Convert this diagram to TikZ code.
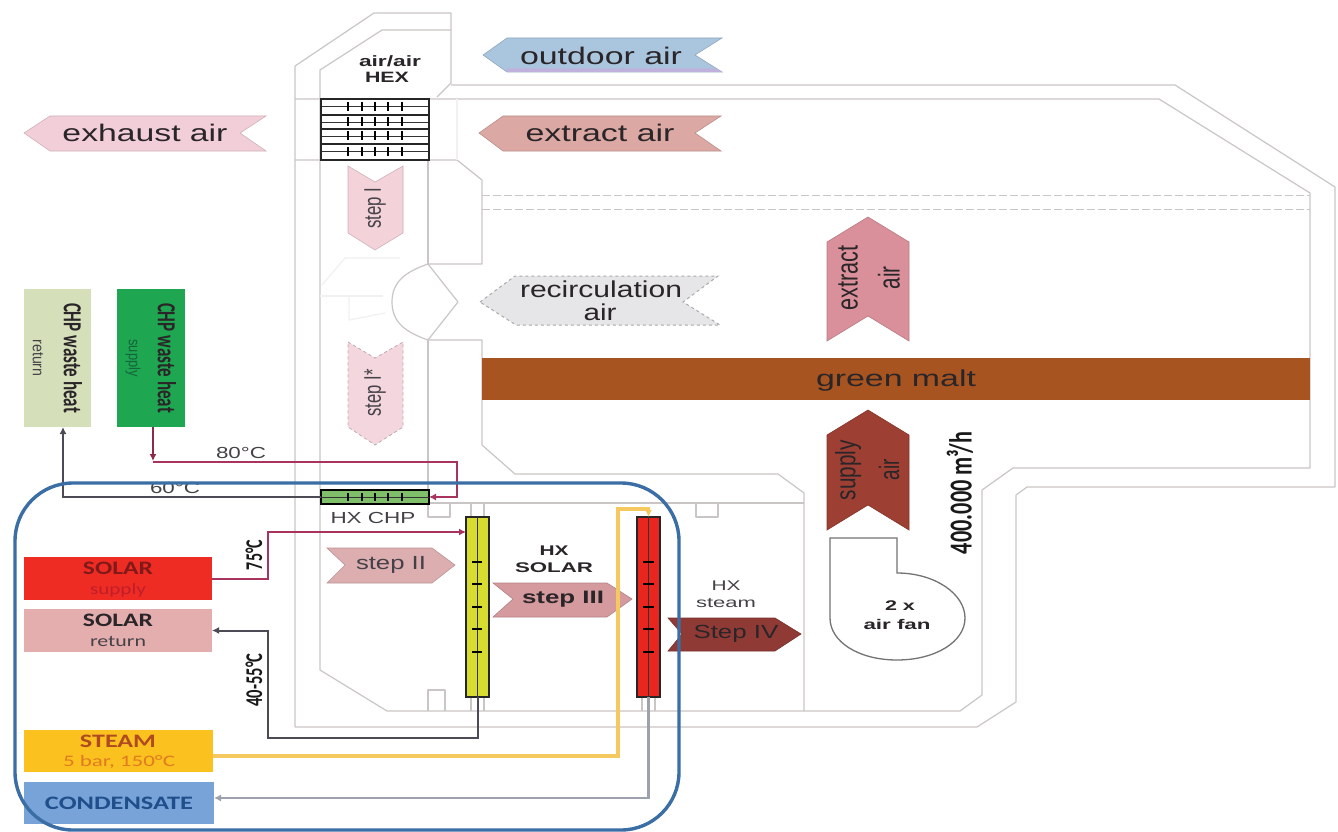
\documentclass[tikz,border=0pt]{standalone}
\usepackage{fontspec}
\usepackage{graphicx}
\usetikzlibrary{arrows.meta}
\setmainfont{Liberation Sans}
\newfontfamily\cb{Carlito}
\newcommand{\fsz}[1]{\fontsize{#1}{#1}\selectfont}
% \lab[opts]{name}{x}{y}{width}{size}{text}
\newcommand{\lab}[7][]{\node[inner sep=0pt,#1] (#2) at (#3,#4) {\fsz{#6}\resizebox{#5pt}{\height}{#7}};}
\definecolor{wall}{HTML}{CBC6C6}
\definecolor{wallfaint}{HTML}{F2F0F0}
\definecolor{txt}{HTML}{2A2528}
\definecolor{grey}{HTML}{444147}
\definecolor{hotpipe}{HTML}{A8335E}
\definecolor{hotdark}{HTML}{8C2A4A}
\definecolor{retpipe}{HTML}{4C4B55}
\definecolor{steampipe}{HTML}{F5C860}
\definecolor{condpipe}{HTML}{9DA1AC}
\definecolor{frameblue}{HTML}{3A6EA5}
\definecolor{maltc}{HTML}{A85420}
\definecolor{outdoorc}{HTML}{AAC5DE}
\definecolor{lilac}{HTML}{BEB2DC}
\definecolor{extractc}{HTML}{DBA8A3}
\definecolor{exhaustc}{HTML}{F2CFD8}
\definecolor{recircc}{HTML}{E6E6E9}
\definecolor{recircd}{HTML}{AAAAAC}
\definecolor{stepa}{HTML}{F3D2DA}
\definecolor{stepb}{HTML}{F3D6DE}
\definecolor{stepbd}{HTML}{BEAAAF}
\definecolor{stepc}{HTML}{DCAEB0}
\definecolor{stepd}{HTML}{D49A9E}
\definecolor{stepe}{HTML}{8F3A35}
\definecolor{upc}{HTML}{D9909A}
\definecolor{supc}{HTML}{9D3F33}
\definecolor{hxchpc}{HTML}{7FBF6A}
\definecolor{hxsolc}{HTML}{D8DC30}
\definecolor{hxstec}{HTML}{E8251F}
\definecolor{chprc}{HTML}{D5DFBA}
\definecolor{chpsc}{HTML}{1FA650}
\definecolor{chpst}{HTML}{14643C}
\definecolor{solsc}{HTML}{EE2C24}
\definecolor{solst}{HTML}{821919}
\definecolor{solsu}{HTML}{BE1E28}
\definecolor{solrc}{HTML}{E4AEAE}
\definecolor{stmc}{HTML}{FBC11F}
\definecolor{stmt}{HTML}{B04A20}
\definecolor{stmu}{HTML}{E07B20}
\definecolor{condc}{HTML}{77A3D8}
\definecolor{condt}{HTML}{1F4E8A}
\tikzset{
  wallline/.style={draw=wall,line width=1.2pt,line join=round},
  faintline/.style={draw=wallfaint,line width=1.2pt},
  dashwall/.style={draw=wall,line width=0.9pt,dash pattern=on 8pt off 3pt},
  ribbon/.style={draw=#1!85!black,fill=#1,line width=0.6pt,line join=miter},
  boxnode/.style={inner sep=0pt,outer sep=0pt,draw=none,anchor=north west},
  pipe/.style={line width=2pt,line join=miter},
  tip/.style={-{Latex[length=7pt,width=7pt]}},
  hxline/.style={draw=black!85,line width=1.5pt},
  thinhx/.style={draw=black!80,line width=0.9pt},
  tick/.style={draw=black,line width=1.4pt},
}
\begin{document}
\begin{tikzpicture}[x=1pt,y=-1pt]
\useasboundingbox (0,0) rectangle (1338,832);
\fill[white] (0,0) rectangle (1338,832);

% ---- building walls
\draw[wallline] (295,727) -- (295,66) -- (374,13) -- (451,13) -- (451,83) -- (437,97);
\draw[wallline] (320,670) -- (320,70) -- (382,30) -- (451,30);
\draw[wallline] (451,85) -- (1175,85) -- (1335,187) -- (1335,487) -- (1027,487) -- (1016,495) -- (1016,702) -- (977,727) -- (295,727);
\draw[wallline] (295,99) -- (1159,99) -- (1310,193) -- (1310,468) -- (1013,468) -- (982,490) -- (982,695) -- (960,711) -- (387,711) -- (320,670);
\draw[wallline] (295,160) -- (457,160) -- (482,180) -- (482,264) -- (428,264);
\draw[wallline] (428,160) -- (428,264);
\draw[faintline] (457,99) -- (457,160);
\draw[dashwall] (482,195) -- (1310,195);
\draw[dashwall] (482,209) -- (1310,209);
% damper
\draw[wallline] (428,264) -- (458,302) -- (428,340) .. controls (405,332) and (392,322) .. (392,302) .. controls (392,282) and (405,272) .. (428,264);
\draw[wallline] (428,340) -- (482,340) -- (482,445) -- (515,474) -- (778,474) -- (804,493) -- (804,711);
\draw[wallline] (428,340) -- (428,503) -- (804,503);
\draw[faintline] (320,296) -- (383,296);
\draw[faintline] (349,296) -- (349,320) -- (385,313);
\draw[faintline] (322,285) -- (345,258) -- (400,258);
% small stubs
\draw[wallline] (428,503) -- (428,517) -- (450,517) -- (450,503);
\draw[wallline] (696,503) -- (696,517) -- (718,517) -- (718,503);
\draw[wallline] (428,711) -- (428,690) -- (445,690) -- (445,711);
\draw[wallline] (471,503) -- (471,517) (484,503) -- (484,517);
\draw[wallline] (471,697) -- (471,711) (484,697) -- (484,711);
\draw[wallline] (642,697) -- (642,711) (655,697) -- (655,711);

% ---- green malt
\node[boxnode,fill=maltc,minimum width=828pt,minimum height=42pt] (malt) at (482,358) {};
\lab[text=txt]{maltlabel}{896}{381}{160}{23}{green malt}

% ---- ribbons
\path[ribbon=outdoorc] (483,55) -- (507,38) -- (722,38) -- (695,55) -- (722,72) -- (507,72) -- cycle;
\fill[lilac] (507,68.5) -- (716,68.5) -- (722,72) -- (507,72) -- cycle;
\lab[text=txt]{outdoorlabel}{601}{56}{162}{24}{outdoor air}
\path[ribbon=extractc] (479,133) -- (503,116) -- (721,116) -- (695,133) -- (721,151) -- (503,151) -- cycle;
\lab[text=txt]{extractlabel}{600}{133}{149}{24}{extract air}
\path[ribbon=exhaustc] (24,133) -- (50,116) -- (266,116) -- (240,133) -- (266,151) -- (50,151) -- cycle;
\lab[text=txt]{exhaustlabel}{145}{133}{165}{24}{exhaust air}
\path[draw=recircd,dashed,line width=1pt,fill=recircc] (480,302) -- (515,276) -- (718,276) -- (683,302) -- (720,325) -- (516,325) -- cycle;
\lab[text=txt]{recirclabel}{601}{289}{162}{23}{recirculation}
\lab[text=txt]{recirclabelb}{600}{312}{33}{23}{air}

% step I / I*
\path[ribbon=stepa] (348,166) -- (375,182) -- (403,166) -- (403,233) -- (375,250) -- (348,233) -- cycle;
\lab[rotate=90,text=grey]{stepone}{375}{208}{41}{24}{step I}
\path[draw=stepbd,dashed,line width=0.8pt,fill=stepb] (348,342) -- (375,358) -- (403,342) -- (403,427) -- (375,445) -- (348,427) -- cycle;
\lab[rotate=90,text=grey]{steponestar}{375}{393}{47}{24}{step I*}

% step II-IV
\path[ribbon=stepc] (327,548) -- (432,548) -- (455,565) -- (432,583) -- (327,583) -- (345,565) -- cycle;
\lab[text=grey]{steptwo}{391}{565}{70}{19}{step II}
\path[ribbon=stepd] (493,583) -- (607,583) -- (632,599) -- (607,617) -- (493,617) -- (513,599) -- cycle;
\lab[text=txt,font=\bfseries]{stepthree}{563}{599}{82}{18}{step III}
\path[ribbon=stepe] (668,618) -- (775,618) -- (801,634) -- (775,651) -- (668,651) -- (682,634) -- cycle;
\lab[text=txt]{stepfour}{736}{634}{85}{19}{Step IV}

% extract / supply chevrons
\path[ribbon=upc] (868,217) -- (909,242) -- (909,341) -- (868,316) -- (827,341) -- (827,242) -- cycle;
\lab[rotate=90,text=txt]{extractup}{848}{278}{65}{30}{extract}
\lab[rotate=90,text=txt]{extractupb}{889}{278}{23}{30}{air}
\path[ribbon=supc] (868,410) -- (909,435) -- (909,530) -- (868,505) -- (827,530) -- (827,435) -- cycle;
\lab[rotate=90,text=txt]{supplyup}{848}{470}{60}{28}{supply}
\lab[rotate=90,text=txt]{supplyupb}{889}{470}{21}{28}{air}
\lab[rotate=90,text=black!90,font=\cb\bfseries]{flow}{960}{493}{122}{32}{400.000 m³/h}

% fan
\draw[draw=black!55,line width=1.3pt,fill=white] (830,538) -- (897,538) -- (897,573) .. controls (935,573) and (965,594) .. (965,618) .. controls (965,642) and (935,660) .. (897,660) .. controls (859,660) and (830,642) .. (830,618) -- cycle;
\lab[text=txt,font=\bfseries]{fanone}{900}{606}{30}{14}{2 x}
\lab[text=txt,font=\bfseries]{fantwo}{897}{624}{67}{14}{air fan}

% ---- air/air HEX
\lab[text=txt,font=\bfseries]{hexa}{390}{61}{62}{15}{air/air}
\lab[text=txt,font=\bfseries]{hexb}{387}{77}{44}{15}{HEX}
\node[boxnode,minimum width=108pt,minimum height=61pt] (hex) at (321,99) {};
\foreach \yy in {106.5,122,136,151.5}{
  \draw[thinhx] (321,\yy) -- (429,\yy);
  \foreach \xx in {348,362,375,388,402}{\draw[tick] (\xx,\yy-4.5) -- (\xx,\yy+4.5);}
}
\foreach \yy in {115,129,144}{\draw[hxline] (321,\yy) -- (429,\yy);}
\draw[draw=black!85,line width=1.7pt] (hex.north west) rectangle (hex.south east);

% ---- HX CHP
\node[boxnode,fill=hxchpc,draw=black,line width=1.4pt,minimum width=108pt,minimum height=14pt] (hxchp) at (321,490) {};
\draw[thinhx] (hxchp.west) -- (hxchp.east);
\foreach \xx in {348,362,375,388,402}{\draw[tick] (\xx,493) -- (\xx,501);}
\lab[text=grey]{hxchplabel}{373}{518}{85}{16}{HX CHP}

% ---- HX solar
\node[boxnode,fill=hxsolc,draw=black!85,line width=1.4pt,minimum width=23pt,minimum height=180pt] (hxsolar) at (466,517) {};
\draw[draw=black!80,line width=1.2pt] (hxsolar.north) -- (hxsolar.south);
\foreach \yy in {562,584,607,629,652}{\draw[draw=black,line width=1.1pt] (472,\yy) -- (482,\yy);}
\lab[text=txt,font=\bfseries]{hxsola}{554}{551}{29}{14}{HX}
\lab[text=txt,font=\bfseries]{hxsolb}{554}{568}{78}{14}{SOLAR}

% ---- HX steam
\node[boxnode,fill=hxstec,draw=black!85,line width=1.4pt,minimum width=23pt,minimum height=180pt] (hxsteam) at (637,517) {};
\draw[draw=black!80,line width=1.2pt] (hxsteam.north) -- (hxsteam.south);
\foreach \yy in {562,584,607,629,652}{\draw[draw=black,line width=1.1pt] (643,\yy) -- (654,\yy);}
\lab[text=grey]{hxstea}{726}{586}{29}{14}{HX}
\lab[text=grey]{hxsteb}{726}{603}{60}{14}{steam}

% ---- side boxes
\node[boxnode,fill=chprc,minimum width=67pt,minimum height=138pt] (chpr) at (24,289) {};
\lab[rotate=-90,text=txt,font=\cb\bfseries]{chprt}{73}{358}{110}{26}{CHP waste heat}
\lab[rotate=-90,text=grey]{chprs}{38}{358}{37}{16}{return}
\node[boxnode,fill=chpsc,minimum width=68pt,minimum height=138pt] (chps) at (117,289) {};
\lab[rotate=-90,text=txt,font=\cb\bfseries]{chpst}{167}{358}{110}{26}{CHP waste heat}
\lab[rotate=-90,text=chpst]{chpss}{133}{358}{37}{16}{supply}

\node[boxnode,fill=solsc,minimum width=188pt,minimum height=43pt] (solars) at (24,557) {};
\lab[text=solst,font=\cb\bfseries]{solarsa}{118}{568}{70}{19}{SOLAR}
\lab[text=solsu,font=\cb]{solarsb}{118}{590}{56}{16}{supply}
\node[boxnode,fill=solrc,minimum width=188pt,minimum height=43pt] (solarr) at (24,609) {};
\lab[text=txt,font=\cb\bfseries]{solarra}{118}{620}{70}{19}{SOLAR}
\lab[text=grey,font=\cb]{solarrb}{118}{641}{56}{16}{return}
\node[boxnode,fill=stmc,minimum width=189pt,minimum height=42pt] (steam) at (24,730) {};
\lab[text=stmt,font=\cb\bfseries]{steama}{118}{741}{76}{19}{STEAM}
\lab[text=stmu,font=\cb]{steamb}{119}{762}{112}{16}{5 bar, 150°C}
\node[boxnode,fill=condc,minimum width=190pt,minimum height=42pt] (cond) at (24,782) {};
\lab[text=condt,font=\cb\bfseries]{condlabel}{119}{803}{148}{19}{CONDENSATE}

% ---- connectors
\coordinate (c80a) at (153,461);
\coordinate (c80b) at (457,462);
\coordinate (c80c) at (457,497);
\draw[pipe,tip,draw=hotdark,line width=2.6pt] (chps.south -| c80a) -- (c80a);
\draw[pipe,tip,draw=hotpipe] (c80a |- c80b) -- (c80b) -- (c80c) -- (hxchp.east);
\coordinate (c60) at (63,497);
\draw[pipe,tip,draw=retpipe] (hxchp.west) -- (c60) -- (chpr.south -| c60);
\coordinate (c75a) at (268,578.5);
\coordinate (c75b) at (268,532);
\draw[pipe,tip,draw=hotpipe] (solars.east) -- (c75a) -- (c75b) -- (hxsolar.west |- c75b);
\coordinate (c40a) at (477.5,738);
\coordinate (c40b) at (268,738);
\coordinate (c40c) at (268,630.5);
\draw[pipe,tip,draw=retpipe] (hxsolar.south) -- (c40a) -- (c40b) -- (c40c) -- (solarr.east);
\coordinate (cs0) at (213,756);
\coordinate (csa) at (618,756);
\coordinate (csb) at (618,509);
\coordinate (csc) at (648.5,509);
\draw[draw=steampipe,line width=3.2pt,line join=miter,tip] (cs0) -- (csa) -- (csb) -- (csc) -- (hxsteam.north);
\coordinate (cca) at (648.5,798);
\coordinate (ccb) at (214,798);
\draw[draw=condpipe,line width=2.6pt,tip] (hxsteam.south) -- (cca) -- (ccb);

% pipe labels
\lab[text=grey]{lab80}{241}{453}{50}{16}{80°C}
\lab[text=grey]{lab60}{175}{488}{50}{16}{60°C}
\lab[rotate=90,text=black!90,font=\cb\bfseries]{lab75}{254}{555}{30}{24}{75°C}
\lab[rotate=90,text=black!90,font=\cb\bfseries]{lab40}{254}{680}{53}{24}{40-55°C}

% ---- blue frame
\draw[draw=frameblue,line width=3.4pt,rounded corners=58pt] (15,483) rectangle (679,830);
\end{tikzpicture}
\end{document}
